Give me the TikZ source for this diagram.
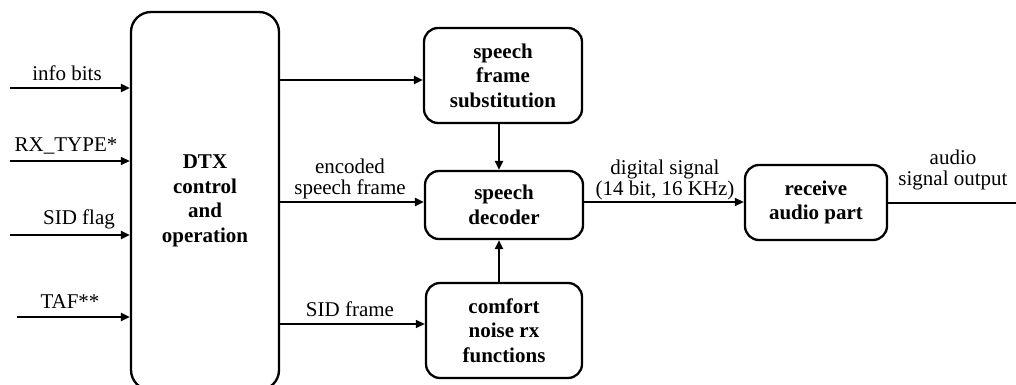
\documentclass[tikz,border=0pt]{standalone}
\usepackage{fontspec}
\setmainfont{Liberation Serif}
\usetikzlibrary{arrows.meta}
\begin{document}
\begin{tikzpicture}[x=1pt,y=-1pt,
  blk/.style={draw,line width=2.3pt,rounded corners=14pt,align=center,font=\fontsize{21}{24.5}\selectfont\bfseries,inner sep=0pt},
  lbl/.style={align=center,font=\fontsize{21}{21}\selectfont,inner sep=0pt},
  arr/.style={line width=2.5pt,-{Triangle[length=9pt,width=8pt]}},
  tarr/.style={line width=1.5pt,-{Triangle[length=9pt,width=8pt]}},
  ln/.style={line width=2.5pt}]
\useasboundingbox (0,0) rectangle (1016,385);
\node[blk,minimum width=148pt,minimum height=378pt,rounded corners=20pt] (dtx) at (205,201) {DTX\\control\\and\\operation};
\node[blk,minimum width=158pt,minimum height=95pt] (sub) at (503,75.5) {speech\\frame\\substitution};
\node[blk,minimum width=158pt,minimum height=68pt] (dec) at (504,205) {speech\\decoder};
\node[blk,minimum width=156pt,minimum height=95pt] (cn) at (504,330.5) {comfort\\noise rx\\functions};
\node[blk,minimum width=142pt,minimum height=75pt] (rcv) at (816,202.5) {receive\\audio part};
\coordinate (i1) at (10,88);
\coordinate (i2) at (10,161);
\coordinate (i3) at (10,235);
\coordinate (i4) at (17,317);
\coordinate (out) at (1016,203);
\draw[arr] (i1) -- (i1 -| dtx.west);
\draw[tarr] (i2) -- (i2 -| dtx.west);
\draw[arr] (i3) -- (i3 -| dtx.west);
\draw[arr] (i4) -- (i4 -| dtx.west);
\node[lbl] (l1) at (67,73) {info bits};
\node[lbl] (l2) at (66,146) {RX\_TYPE*};
\node[lbl] (l3) at (79,219) {SID flag};
\node[lbl] (l4) at (70,302) {TAF**};
\draw[arr] (dtx.east |- 0,80) -- (sub.west |- 0,80);
\draw[arr] (dtx.east |- 0,202) -- (dec.west |- 0,202);
\draw[tarr] (dtx.east |- 0,324) -- (cn.west |- 0,324);
\draw[arr] (sub.south -| 499,0) -- (dec.north -| 499,0);
\draw[arr] (cn.north -| 499,0) -- (dec.south -| 499,0);
\draw[tarr] (dec.east |- 0,202) -- (rcv.west |- 0,202);
\draw[ln] (rcv.east |- out) -- (out);
\node[lbl] (l5) at (350,179) {encoded\\speech frame};
\node[lbl] (l6) at (350,309) {SID frame};
\node[lbl] (l7) at (665,180) {digital signal\\(14 bit, 16 KHz)};
\node[lbl] (l8) at (953,170) {audio\\signal output};
\end{tikzpicture}
\end{document}
